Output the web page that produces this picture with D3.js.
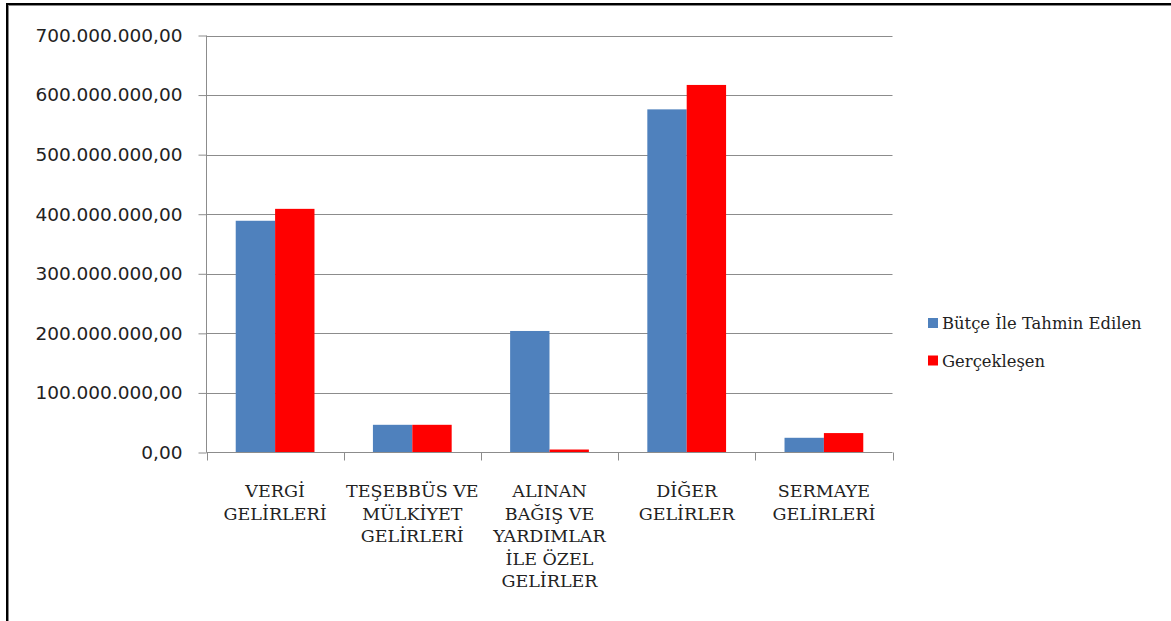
<!DOCTYPE html>
<html><head><meta charset="utf-8">
<script src="https://cdn.jsdelivr.net/npm/d3@7"></script>
<style>body{margin:0;background:#fff}svg{display:block}</style>
</head><body>
<script>
const categories = ["VERGİ\nGELİRLERİ", "TEŞEBBÜS VE\nMÜLKİYET\nGELİRLERİ", "ALINAN\nBAĞIŞ VE\nYARDIMLAR\nİLE ÖZEL\nGELİRLER", "DİĞER\nGELİRLER", "SERMAYE\nGELİRLERİ"];
const seriesNames = ["Bütçe İle Tahmin Edilen", "Gerçekleşen"];
const budget = [389000000, 46500000, 204000000, 576000000, 24700000];
const actual = [409000000, 46500000, 5000000, 617000000, 32600000];
const yTicks = [0, 100000000, 200000000, 300000000, 400000000, 500000000, 600000000, 700000000];
const colors = ["#4f81bd", "#ff0000"];

const W = 1171, H = 621;
const svg = d3.select("body").append("svg").attr("width", W).attr("height", H);

// frame
svg.append("rect").attr("x", 6).attr("y", 3).attr("width", W).attr("height", 2).attr("fill", "#000");
svg.append("rect").attr("x", 8).attr("y", 5).attr("width", W).attr("height", 1).attr("fill", "#888");
svg.append("rect").attr("x", 6).attr("y", 3).attr("width", 2).attr("height", H).attr("fill", "#000");
svg.append("rect").attr("x", 8).attr("y", 6).attr("width", 1).attr("height", H).attr("fill", "#888");

const x0 = 206.5, x1 = 892.5, yTop = 35.5, yBot = 452.5;
const x = d3.scaleBand().domain(d3.range(categories.length)).range([x0, x1]).paddingInner(0.426).paddingOuter(0.213);
const xs = d3.scaleBand().domain([0, 1]).range([0, x.bandwidth()]);
const y = d3.scaleLinear().domain([0, 700000000]).range([yBot, yTop]);

const fmt = v => {
  const s = d3.format(",.2f")(v);
  return s.replace(/,/g, "#").replace(".", ",").replace(/#/g, ".");
};

// gridlines
svg.append("g").selectAll("line").data(yTicks.filter(d => d > 0)).join("line")
  .attr("x1", x0).attr("x2", x1).attr("y1", d => Math.round(y(d)) + 0.5).attr("y2", d => Math.round(y(d)) + 0.5)
  .attr("stroke", "#8c8c8c").attr("stroke-width", 1);

// bars
const data = [budget, actual];
const g = svg.append("g");
categories.forEach((c, i) => {
  data.forEach((arr, s) => {
    g.append("rect")
      .attr("x", x(i) + xs(s))
      .attr("y", y(arr[i]))
      .attr("width", xs.bandwidth())
      .attr("height", yBot - y(arr[i]))
      .attr("fill", colors[s]);
  });
});

// y axis
const yAxis = d3.axisLeft(y).tickValues(yTicks).tickFormat(fmt).tickSize(8).tickPadding(16);
const ya = svg.append("g").attr("transform", `translate(${x0},0)`).call(yAxis);
ya.select(".domain").attr("stroke", "#8c8c8c").attr("d", `M0,${yTop}V${yBot}`);
ya.selectAll(".tick line").attr("stroke", "#8c8c8c");
ya.selectAll("text").attr("font-family", "DejaVu Sans").attr("font-size", 18.5).attr("fill", "#222");

// x axis
const bounds = d3.range(categories.length + 1).map(i => x0 + (x1 - x0) * i / categories.length);
svg.append("line").attr("x1", x0).attr("x2", x1).attr("y1", yBot).attr("y2", yBot).attr("stroke", "#8c8c8c");
svg.append("g").selectAll("line").data(bounds).join("line")
  .attr("x1", d => Math.round(d) + 0.5).attr("x2", d => Math.round(d) + 0.5)
  .attr("y1", yBot).attr("y2", yBot + 8).attr("stroke", "#8c8c8c");

const lab = svg.append("g");
categories.forEach((c, i) => {
  const t = lab.append("text").attr("text-anchor", "middle")
    .attr("font-family", "DejaVu Serif").attr("font-size", 17.5).attr("fill", "#222");
  c.split("\n").forEach((ln, k) => {
    t.append("tspan").attr("x", x(i) + x.bandwidth() / 2).attr("y", 497 + k * 22.5).text(ln);
  });
});

// legend
const lg = svg.append("g");
seriesNames.forEach((n, s) => {
  const yy = 318 + s * 37.5;
  lg.append("rect").attr("x", 928).attr("y", yy).attr("width", 10).attr("height", 10).attr("fill", colors[s]);
  lg.append("text").attr("x", 942).attr("y", yy + 11).attr("font-family", "DejaVu Serif").attr("font-size", 16.4)
    .attr("fill", "#222").text(n);
});
</script>
</body></html>
